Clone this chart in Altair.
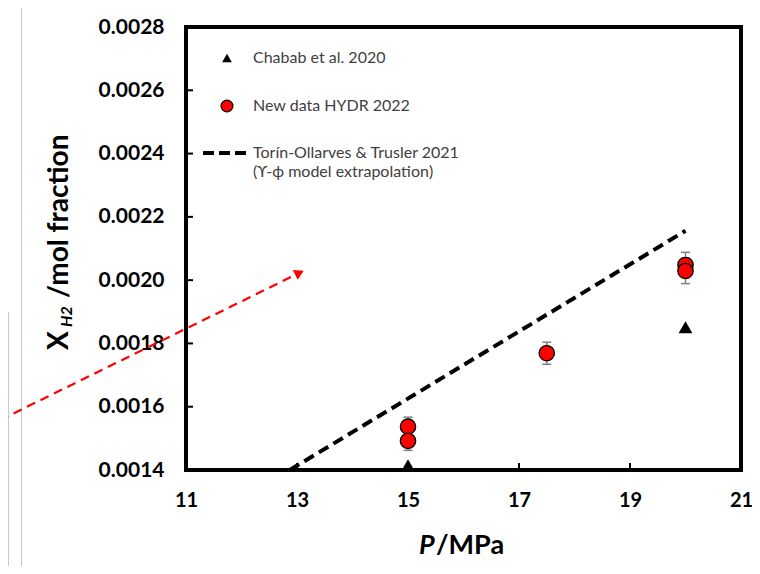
import altair as alt
import pandas as pd

# ---------------- data ----------------
chabab_p = [15.0, 20.0]
chabab_x = [0.001415, 0.001851]

hydr_p = [15.0, 15.0, 17.5, 20.0, 20.0]
hydr_x = [0.001537, 0.001492, 0.001769, 0.002048, 0.002029]
hydr_err = [0.00003, 0.00003, 0.000035, 0.00004, 0.00004]

model_p = [12.87, 20.0]
model_x = [0.0014, 0.002156]

arrow_p = [7.65, 13.045]
arrow_x = [0.001558, 0.002023]

x_ticks = [11, 13, 15, 17, 19, 21]
y_ticks = [0.0014, 0.0016, 0.0018, 0.0020, 0.0022, 0.0024, 0.0026, 0.0028]

legend_labels = ["Chabab et al. 2020", "New data HYDR 2022",
                 "Torín-Ollarves & Trusler 2021", "(ϒ-ϕ model extrapolation)"]

FONT = "Lato"
W, H = 555, 443

xs = alt.Scale(domain=[11, 21], nice=False, zero=False)
ys = alt.Scale(domain=[0.0014, 0.0028], nice=False, zero=False)

# ---------------- tables ----------------
df_ch = pd.DataFrame({"p": chabab_p, "x": chabab_x})
df_hy = pd.DataFrame({"p": hydr_p, "x": hydr_x, "e": hydr_err})
df_hy["lo"] = df_hy["x"] - df_hy["e"]
df_hy["hi"] = df_hy["x"] + df_hy["e"]
df_mod = pd.DataFrame({"p": model_p, "x": model_x})
df_arrow = pd.DataFrame({"p": arrow_p, "x": arrow_x})
df_head = df_arrow.tail(1)
df_xt = pd.DataFrame({"p": x_ticks})
df_yt = pd.DataFrame({"x": y_ticks})

x_axis = alt.Axis(values=x_ticks, format="d", title=None, grid=False, domain=False,
                  ticks=False, labelFont=FONT, labelFontSize=20, labelFontWeight="bold",
                  labelColor="black", labelPadding=20, labelFlush=False, labelOverlap=False)
y_axis = alt.Axis(values=y_ticks, format=".4f", title=None, grid=False, domain=False,
                  ticks=False, labelFont=FONT, labelFontSize=21, labelFontWeight="bold",
                  labelColor="black", labelPadding=22, labelOverlap=False)

def X(f):
    return alt.X(f, scale=xs, axis=x_axis)

def Y(f):
    return alt.Y(f, scale=ys, axis=y_axis)

# inward tick marks
xtick_layer = alt.Chart(df_xt).mark_rule(color="black", strokeWidth=2).encode(
    x=X("p:Q"), y=alt.value(H), y2=alt.value(H - 7))
ytick_layer = alt.Chart(df_yt).mark_rule(color="black", strokeWidth=2).encode(
    y=Y("x:Q"), x=alt.value(0), x2=alt.value(7))

# decorations from the cropped source figure (light grey frame lines)
one = pd.DataFrame({"k": [0]})
grey1 = alt.Chart(one).mark_rule(color="#c8c8c8", strokeWidth=1).encode(
    x=alt.value(-164.5), y=alt.value(-19), y2=alt.value(539))
grey2 = alt.Chart(one).mark_rule(color="#c8c8c8", strokeWidth=1).encode(
    x=alt.value(-177.5), y=alt.value(285), y2=alt.value(539))

arrow_line = alt.Chart(df_arrow).mark_line(color="#ff0000", strokeWidth=2.2,
                                           strokeDash=[9, 6]).encode(x=X("p:Q"), y=Y("x:Q"))
arrow_head = alt.Chart(df_head).mark_point(shape="triangle-up", filled=True, color="#ff0000",
                                           size=120, angle=64, opacity=1).encode(
    x=X("p:Q"), y=Y("x:Q"))

model_line = alt.Chart(df_mod).mark_line(color="black", strokeWidth=4,
                                         strokeDash=[11, 6]).encode(x=X("p:Q"), y=Y("x:Q"))

err_rule = alt.Chart(df_hy).mark_rule(color="#7f7f7f", strokeWidth=1.5).encode(
    x=X("p:Q"), y=Y("lo:Q"), y2="hi:Q")
err_cap_hi = alt.Chart(df_hy).mark_tick(color="#7f7f7f", orient="horizontal", size=9,
                                        thickness=1.5, opacity=1).encode(x=X("p:Q"), y=Y("hi:Q"))
err_cap_lo = alt.Chart(df_hy).mark_tick(color="#7f7f7f", orient="horizontal", size=9,
                                        thickness=1.5, opacity=1).encode(x=X("p:Q"), y=Y("lo:Q"))

hydr_pts = alt.Chart(df_hy).mark_point(shape="circle", filled=True, fill="#ff0000",
                                       stroke="black", strokeWidth=1.3, size=235,
                                       opacity=1).encode(x=X("p:Q"), y=Y("x:Q"))

chabab_pts = alt.Chart(df_ch).mark_point(shape="triangle-up", filled=True, color="black",
                                         size=190, opacity=1).encode(x=X("p:Q"), y=Y("x:Q"))

# ---------------- legend ----------------
LEG_C = "#404040"
leg_tri = alt.Chart(one).mark_point(shape="triangle-up", filled=True, color="black",
                                    size=95, opacity=1).encode(x=alt.value(41), y=alt.value(31))
leg_circ = alt.Chart(one).mark_point(shape="circle", filled=True, fill="#ff0000",
                                     stroke="black", strokeWidth=1.2, size=140,
                                     opacity=1).encode(x=alt.value(41), y=alt.value(79))
leg_line = alt.Chart(one).mark_rule(color="black", strokeWidth=4, strokeDash=[11, 5]).encode(
    x=alt.value(17), x2=alt.value(61), y=alt.value(126))

leg_y = [31, 79, 126, 145]
leg_texts = []
for lab, yy in zip(legend_labels, leg_y):
    leg_texts.append(
        alt.Chart(pd.DataFrame({"t": [lab]})).mark_text(
            font=FONT, fontSize=16, color=LEG_C, align="left", baseline="middle").encode(
            x=alt.value(67), y=alt.value(yy), text="t:N"))

# ---------------- axis titles (mixed styles) ----------------
ytitle_X = alt.Chart(pd.DataFrame({"t": ["X"]})).mark_text(
    font=FONT, fontSize=28, fontWeight="bold", color="black", angle=270,
    align="left", baseline="alphabetic").encode(x=alt.value(-118), y=alt.value(323), text="t:N")
ytitle_sub = alt.Chart(pd.DataFrame({"t": ["H2"]})).mark_text(
    font=FONT, fontSize=16, fontWeight="bold", fontStyle="italic", color="black", angle=270,
    align="left", baseline="alphabetic").encode(x=alt.value(-114), y=alt.value(300), text="t:N")
ytitle_rest = alt.Chart(pd.DataFrame({"t": ["/mol fraction"]})).mark_text(
    font=FONT, fontSize=28, fontWeight="bold", color="black", angle=270,
    align="left", baseline="alphabetic").encode(x=alt.value(-118), y=alt.value(271), text="t:N")

xtitle_P = alt.Chart(pd.DataFrame({"t": ["P"]})).mark_text(
    font=FONT, fontSize=27, fontWeight="bold", fontStyle="italic", color="black",
    align="left", baseline="alphabetic").encode(x=alt.value(233), y=alt.value(527), text="t:N")
xtitle_rest = alt.Chart(pd.DataFrame({"t": ["/MPa"]})).mark_text(
    font=FONT, fontSize=27, fontWeight="bold", color="black",
    align="left", baseline="alphabetic").encode(x=alt.value(250), y=alt.value(527), text="t:N")

chart = alt.layer(
    xtick_layer, ytick_layer, grey1, grey2, arrow_line, arrow_head, model_line,
    err_rule, err_cap_hi, err_cap_lo, hydr_pts, chabab_pts,
    leg_tri, leg_circ, leg_line, *leg_texts,
    ytitle_X, ytitle_sub, ytitle_rest, xtitle_P, xtitle_rest,
).properties(
    width=W, height=H,
    background="white",
    autosize=alt.AutoSizeParams(type="none"),
    padding={"left": 178, "top": 19, "right": 11, "bottom": 96},
).configure_view(
    stroke="black", strokeWidth=4
)

chart.save("out.html", embed_options={"renderer": "svg", "actions": False})
